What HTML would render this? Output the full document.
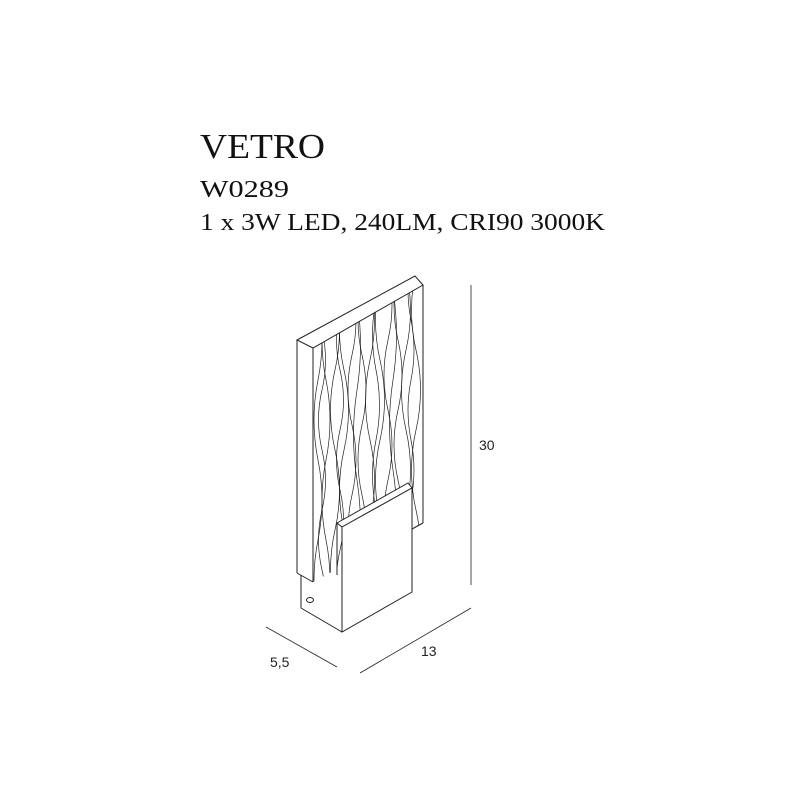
<!DOCTYPE html>
<html><head><meta charset="utf-8"><style>html,body{margin:0;padding:0;background:#fff}svg{display:block}</style></head>
<body>
<svg width="800" height="800" viewBox="0 0 800 800" xmlns="http://www.w3.org/2000/svg">
<rect width="800" height="800" fill="#fff"/>
<g font-family="'Liberation Serif', serif" fill="#111">
<text x="200" y="158" font-size="35" textLength="125" lengthAdjust="spacingAndGlyphs">VETRO</text>
<text x="200" y="197" font-size="24" textLength="89" lengthAdjust="spacingAndGlyphs">W0289</text>
<text x="200" y="230" font-size="24" textLength="405" lengthAdjust="spacingAndGlyphs">1 x 3W LED, 240LM, CRI90 3000K</text>
</g>
<defs><clipPath id="c"><polygon points="313,348 423,285 423,523 313,582"/></clipPath></defs>
<g fill="none" stroke="#222" stroke-width="1">
<polygon points="297,340 415,276 423,285 313,348"/>
<line x1="297" y1="340" x2="297" y2="573"/>
<line x1="313" y1="348" x2="313" y2="582"/>
<line x1="297" y1="573" x2="313" y2="582"/>
<line x1="423" y1="285" x2="423" y2="523"/>
<line x1="412" y1="529" x2="423" y2="523"/>
<g clip-path="url(#c)" stroke-width="0.7">
<path d="M318,300 q8,40 0,80 t0,80 t0,80 t0,80 t0,80"/>
<path d="M326,300 q-8,40 0,80 t0,80 t0,80 t0,80 t0,80"/>
<path d="M322,330 q7,30 0,60 t0,60 t0,60 t0,60 t0,60"/>
<path d="M335,290 q9,40 0,80 t0,80 t0,80 t0,80 t0,80"/>
<path d="M344,290 q-9,40 0,80 t0,80 t0,80 t0,80 t0,80"/>
<path d="M340,310 q-7,30 0,60 t0,60 t0,60 t0,60 t0,60"/>
<path d="M352,285 q8,35 0,70 t0,70 t0,70 t0,70 t0,70 t0,70"/>
<path d="M362,285 q-8,35 0,70 t0,70 t0,70 t0,70 t0,70 t0,70"/>
<path d="M357,300 q7,45 0,90 t0,90 t0,90 t0,90"/>
<path d="M370,280 q9,40 0,80 t0,80 t0,80 t0,80"/>
<path d="M380,280 q-9,40 0,80 t0,80 t0,80 t0,80"/>
<path d="M376,300 q-7,35 0,70 t0,70 t0,70 t0,70"/>
<path d="M388,270 q8,35 0,70 t0,70 t0,70 t0,70 t0,70"/>
<path d="M398,270 q-8,35 0,70 t0,70 t0,70 t0,70 t0,70"/>
<path d="M393,290 q7,45 0,90 t0,90 t0,90"/>
<path d="M406,270 q9,40 0,80 t0,80 t0,80 t0,80"/>
<path d="M416,270 q-9,40 0,80 t0,80 t0,80 t0,80"/>
<path d="M411,260 q-6,30 0,60 t0,60 t0,60 t0,60 t0,60"/>
</g>
<polygon points="337,523 408,483 412,488 342,527" fill="#fff"/>
<polygon points="342,527 412,488 412,592 342,632" fill="#fff"/>
<line x1="337" y1="523" x2="337" y2="575"/>
<line x1="301" y1="575" x2="301" y2="608"/>
<line x1="301" y1="608" x2="342" y2="632"/>
<ellipse cx="310" cy="600" rx="3.5" ry="2.5"/>
<line x1="471" y1="285" x2="471" y2="585" stroke-width="0.8"/>
<line x1="360" y1="673" x2="471" y2="608" stroke-width="0.8"/>
<line x1="266" y1="627" x2="337" y2="667" stroke-width="0.8"/>
</g>
<g font-family="'Liberation Sans', sans-serif" font-size="14" fill="#222">
<text x="479" y="450">30</text>
<text x="421" y="656">13</text>
<text x="270" y="667">5,5</text>
</g>
</svg>
</body></html>
